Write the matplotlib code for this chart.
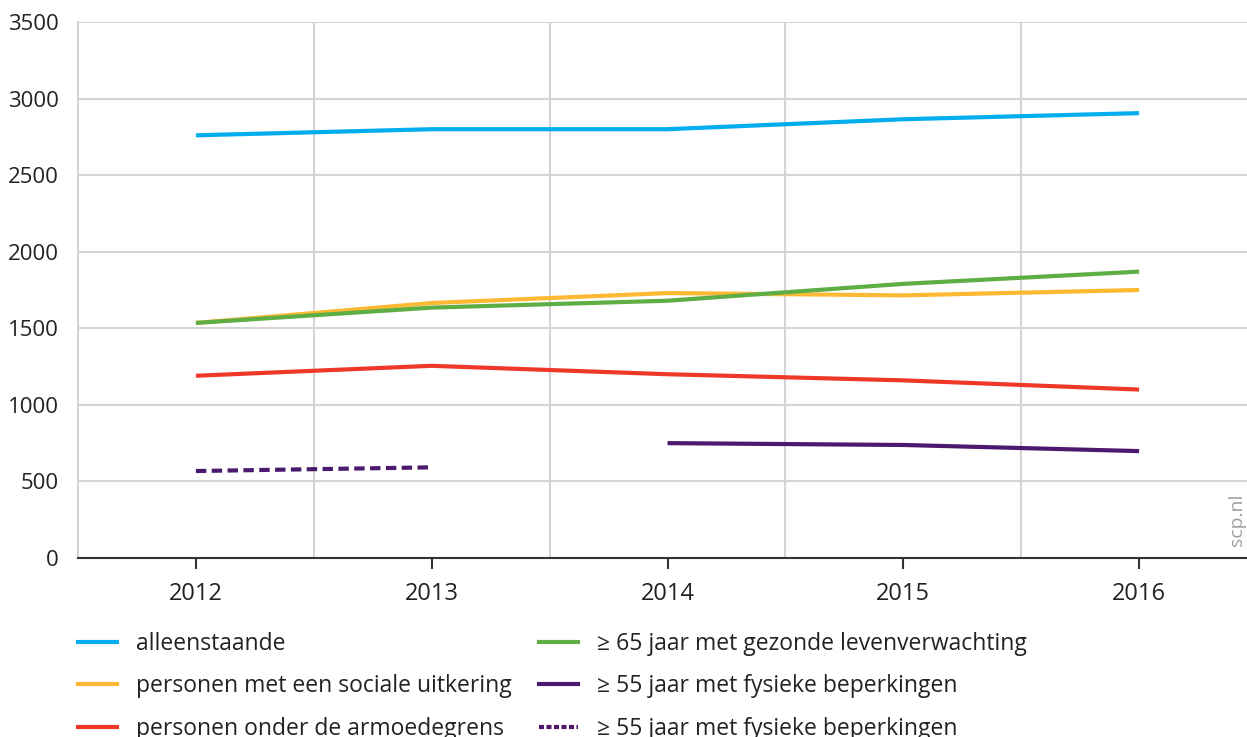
import matplotlib.pyplot as plt
from matplotlib.lines import Line2D

# ___DATA___ #
YEARS = [2012, 2013, 2014, 2015, 2016]
ALLEENSTAANDE = [2760, 2800, 2800, 2865, 2905]
SOCIALE_UITKERING = [1535, 1665, 1730, 1715, 1750]
ARMOEDEGRENS = [1190, 1255, 1200, 1160, 1100]
GEZONDE_LEVENSVERW = [1535, 1635, 1680, 1790, 1870]
FYSIEK_YEARS = [2014, 2015, 2016]
FYSIEK = [750, 738, 698]
FYSIEK_OLD_YEARS = [2012, 2013]
FYSIEK_OLD = [568, 592]

LABELS = ['alleenstaande', 'personen met een sociale uitkering',
          'personen onder de armoedegrens',
          '≥ 65 jaar met gezonde levenverwachting',
          '≥ 55 jaar met fysieke beperkingen',
          '≥ 55 jaar met fysieke beperkingen']

# ___STYLE___ #
BLUE = '#00aeef'
ORANGE = '#fdb933'
RED = '#ef3829'
GREEN = '#5fae45'
PURPLE = '#4b1a6e'
GRID = '#d4d4d4'
TEXT = '#222222'

plt.rcParams['font.family'] = ['Open Sans', 'DejaVu Sans']

fig = plt.figure(figsize=(12.47, 7.37), dpi=100)
ax = fig.add_axes([78 / 1247, 1 - 558 / 737, (1257 - 78) / 1247, (558 - 22) / 737])

lw = 3
ax.plot(YEARS, ALLEENSTAANDE, color=BLUE, lw=lw, solid_capstyle='butt')
ax.plot(YEARS, SOCIALE_UITKERING, color=ORANGE, lw=lw, solid_capstyle='butt')
ax.plot(YEARS, GEZONDE_LEVENSVERW, color=GREEN, lw=lw, solid_capstyle='butt')
ax.plot(YEARS, ARMOEDEGRENS, color=RED, lw=lw, solid_capstyle='butt')
ax.plot(FYSIEK_YEARS, FYSIEK, color=PURPLE, lw=lw, solid_capstyle='butt')
ax.plot(FYSIEK_OLD_YEARS, FYSIEK_OLD, color=PURPLE, lw=lw, ls=(0, (2.5, 1.3)),
        dash_capstyle='butt')

ax.set_xlim(2011.5, 2016.5)
ax.set_ylim(0, 3500)
ax.set_xticks(YEARS)
ax.set_xticks([2012.5, 2013.5, 2014.5, 2015.5], minor=True)
ax.set_yticks(range(0, 3501, 500))

ax.grid(axis='y', which='major', color=GRID, lw=1.5)
ax.grid(axis='x', which='minor', color=GRID, lw=1.5)
ax.set_axisbelow(True)

for s in ['top', 'right']:
    ax.spines[s].set_visible(False)
ax.spines['left'].set_color(GRID)
ax.spines['left'].set_linewidth(1.5)
ax.spines['bottom'].set_color('#333333')
ax.spines['bottom'].set_linewidth(1.5)

ax.tick_params(axis='x', which='major', direction='out', length=8, width=1.5,
               color='#333333', labelsize=17, labelcolor=TEXT, pad=9)
ax.tick_params(axis='x', which='minor', length=0)
ax.tick_params(axis='y', length=0, labelsize=16, labelcolor=TEXT, pad=14)

fig.text(1237 / 1247, 1 - 520 / 737, 'scp.nl', rotation=90, color='#a0a0a0',
         fontsize=14, ha='center', va='center')

# legend in two fixed columns
colors = [BLUE, ORANGE, RED, GREEN, PURPLE, PURPLE]
styles = ['-', '-', '-', '-', '-', (0, (1.2, 0.6))]
handles = [Line2D([], [], color=c, lw=3, ls=s) for c, s in zip(colors, styles)]
leg_kw = dict(frameon=False, fontsize=16.5, handlelength=1.7, handletextpad=0.85,
              labelspacing=0.8, labelcolor=TEXT, borderpad=0, borderaxespad=0)
fig.legend(handles[:3], LABELS[:3], loc='upper left',
           bbox_to_anchor=(78 / 1247, 1 - 632 / 737), **leg_kw)
fig.legend(handles[3:], LABELS[3:], loc='upper left',
           bbox_to_anchor=(539 / 1247, 1 - 632 / 737), **leg_kw)

fig.savefig('out.png', dpi=100)
